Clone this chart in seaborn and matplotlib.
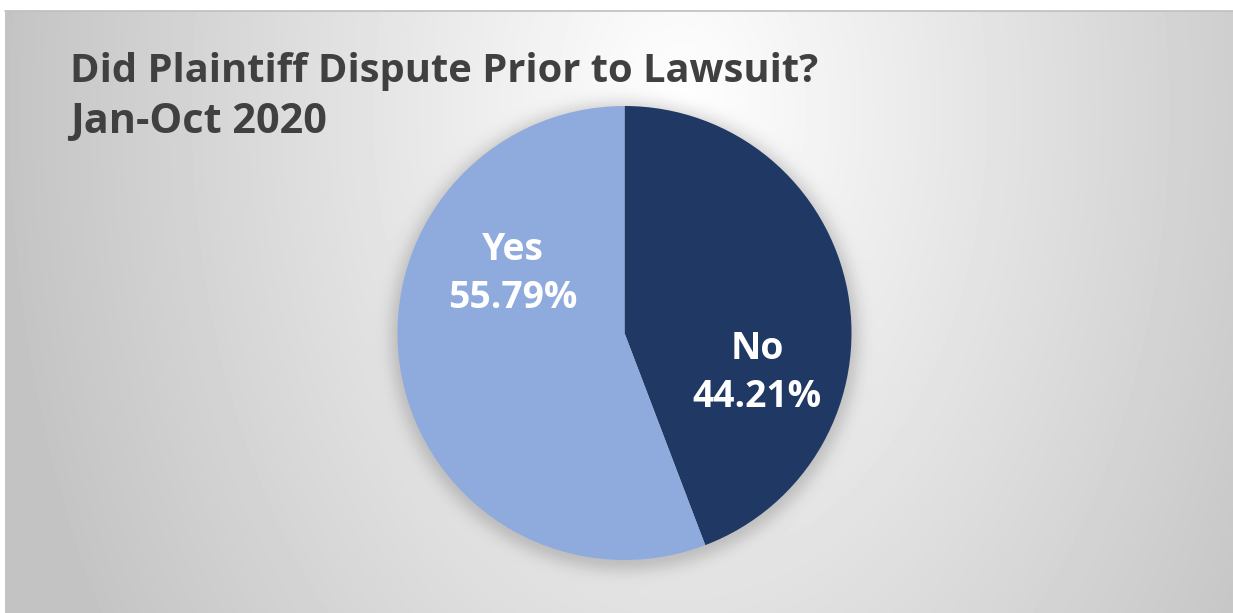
import numpy as np
import matplotlib
matplotlib.use("Agg")
import matplotlib.pyplot as plt
import seaborn as sns

# ---- data ----
categories = ["No", "Yes"]
values = [44.21, 55.79]
colors = ["#1F3864", "#8FAADC"]
title_lines = ["Did Plaintiff Dispute Prior to Lawsuit?", "Jan-Oct 2020"]

sns.set_theme(style="white")
plt.rcParams['font.family'] = ['Open Sans', 'DejaVu Sans']

W, H = 1233, 613
fig = plt.figure(figsize=(W / 100, H / 100), dpi=100)
fig.patch.set_facecolor("white")

# pie geometry in pixels (from top-left)
cx, cy, R = 624.5, 333.0, 227.0

# ---- background: radial gradient + soft pie shadow ----
bx0, by0 = 5, 11
yy, xx = np.mgrid[by0:H, bx0:W].astype(float)
d = np.sqrt(((xx - 680) / 640.0) ** 2 + ((yy - 110) / 950.0) ** 2)
bg = 1.0 - 0.22 * np.clip(d, 0, 1.05)
dc = np.sqrt((xx - cx) ** 2 + (yy - cy - 3) ** 2)
sh = np.where(dc > R - 10, np.exp(-((dc - R + 4) / 14.0) ** 2), 1.0)
bg = bg * (1 - 0.16 * sh)
bg_ax = fig.add_axes([bx0 / W, 0, (W - bx0) / W, (H - by0) / H])
bg_ax.imshow(bg, cmap="gray", vmin=0, vmax=1, aspect="auto",
             interpolation="bilinear")
bg_ax.set_axis_off()
# top border line
fig.add_artist(plt.Line2D([bx0 / W, 1], [(H - by0) / H] * 2, color="#BFBFBF",
                          lw=1.2, transform=fig.transFigure))

# ---- pie ----
ax = fig.add_axes([(cx - R) / W, (H - cy - R) / H, 2 * R / W, 2 * R / H])
wedges, _ = ax.pie(values, colors=colors, startangle=90, counterclock=False,
                   radius=1.0, wedgeprops=dict(linewidth=0))
ax.set_xlim(-1, 1)
ax.set_ylim(-1, 1)
ax.set_axis_off()

label_pos = {"No": (0.584, -0.176), "Yes": (-0.491, 0.26)}
for cat, v in zip(categories, values):
    x, y = label_pos[cat]
    ax.text(x, y, f"{cat}\n{v:.2f}%", ha="center", va="center", color="white",
            fontsize=26.8, fontweight="bold", linespacing=1.32)

# ---- title ----
fig.text(70 / W, 1 - 82 / H, title_lines[0], ha="left", va="baseline",
         fontsize=28.7, fontweight="bold", color="#404040")
fig.text(70 / W, 1 - 133 / H, title_lines[1], ha="left", va="baseline",
         fontsize=29.8, fontweight="bold", color="#404040")

fig.savefig("out.png", dpi=100)
